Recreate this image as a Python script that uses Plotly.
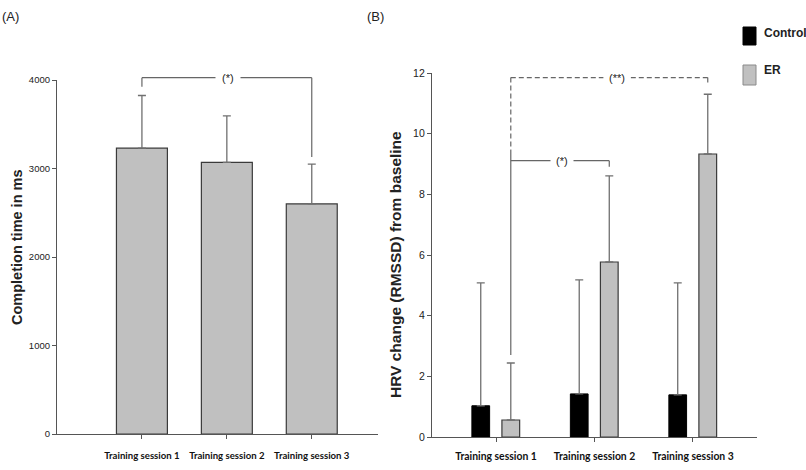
import plotly.graph_objects as go

# ---------------- data ----------------
sessions = ["Training session 1", "Training session 2", "Training session 3"]
completion_ms = [3230, 3070, 2600]
completion_err = [595, 525, 450]
control_hrv = [1.03, 1.42, 1.39]
control_err = [4.05, 3.76, 3.69]
er_hrv = [0.56, 5.77, 9.33]
er_err = [1.88, 2.84, 1.97]
a_yticks = [0, 1000, 2000, 3000, 4000]
b_yticks = [0, 2, 4, 6, 8, 10, 12]

# ---------------- layout geometry ----------------
W, H = 806, 470
XA_DOM = [57 / W, 378 / W]
XA_RNG = [-1, 2.78]
YA_DOM = [(H - 434) / H, (H - 80) / H]
YA_RNG = [0, 4000]
XB_DOM = [432 / W, 757 / W]
XB_RNG = [-0.65, 2.65]
YB_DOM = [(H - 437) / H, (H - 73) / H]
YB_RNG = [0, 12]


def to_paper(v, dom, rng):
    return dom[0] + (v - rng[0]) / (rng[1] - rng[0]) * (dom[1] - dom[0])


SANS = "Liberation Sans, Arial, sans-serif"
CAT = "Lato, Liberation Sans, Arial, sans-serif"
AX = "#555555"
ERRC = "#707070"
BRC = "#666666"

fig = go.Figure()

# Panel A
fig.add_trace(go.Bar(
    x=sessions, y=completion_ms, width=0.6,
    marker=dict(color="#c0c0c0", line=dict(color="#3a3a3a", width=1.2)),
    error_y=dict(type="data", array=completion_err, arrayminus=[0] * 3,
                 symmetric=False, color=ERRC, thickness=1.3, width=4),
    xaxis="x", yaxis="y", showlegend=False, name="Completion time"))

# Panel B
fig.add_trace(go.Bar(
    x=sessions, y=control_hrv, width=0.18, offset=-0.245,
    marker=dict(color="#000000", line=dict(color="#000000", width=1)),
    error_y=dict(type="data", array=control_err, arrayminus=[0] * 3,
                 symmetric=False, color=ERRC, thickness=1.3, width=4),
    xaxis="x2", yaxis="y2", showlegend=False, name="Control"))
fig.add_trace(go.Bar(
    x=sessions, y=er_hrv, width=0.18, offset=0.06,
    marker=dict(color="#c0c0c0", line=dict(color="#3a3a3a", width=1.2)),
    error_y=dict(type="data", array=er_err, arrayminus=[0] * 3,
                 symmetric=False, color=ERRC, thickness=1.3, width=4),
    xaxis="x2", yaxis="y2", showlegend=False, name="ER"))

axis_common = dict(showline=True, linecolor=AX, linewidth=1.2, ticks="outside",
                   ticklen=4, tickcolor=AX, tickwidth=1, showgrid=False,
                   zeroline=False, fixedrange=True, automargin=False)

fig.update_layout(
    width=W, height=H, margin=dict(l=0, r=0, t=0, b=0, autoexpand=False),
    paper_bgcolor="white", plot_bgcolor="white", barmode="overlay",
    xaxis=dict(domain=XA_DOM, range=XA_RNG, anchor="y", tickangle=0, **axis_common,
               tickfont=dict(family=CAT, size=9.6, color="#111", weight="bold"),
               ticklabelstandoff=8),
    yaxis=dict(domain=YA_DOM, range=YA_RNG, anchor="x", tickvals=a_yticks,
               **axis_common, tickfont=dict(family=SANS, size=9.5, color="#222")),
    xaxis2=dict(domain=XB_DOM, range=XB_RNG, anchor="y2", tickangle=0, **axis_common,
                tickfont=dict(family=CAT, size=10.4, color="#111", weight="bold"),
                ticklabelstandoff=5),
    yaxis2=dict(domain=YB_DOM, range=YB_RNG, anchor="x2", tickvals=b_yticks,
                **axis_common, tickfont=dict(family=SANS, size=10.5, color="#222")),
)

shapes = []
annots = []


def line_a(x0, y0, x1, y1, dash="solid"):
    shapes.append(dict(type="line", xref="paper", yref="paper",
                       x0=to_paper(x0, XA_DOM, XA_RNG), y0=to_paper(y0, YA_DOM, YA_RNG),
                       x1=to_paper(x1, XA_DOM, XA_RNG), y1=to_paper(y1, YA_DOM, YA_RNG),
                       line=dict(color=BRC, width=1.2, dash=dash)))


def line_b(x0, y0, x1, y1, dash="solid"):
    shapes.append(dict(type="line", xref="paper", yref="paper",
                       x0=to_paper(x0, XB_DOM, XB_RNG), y0=to_paper(y0, YB_DOM, YB_RNG),
                       x1=to_paper(x1, XB_DOM, XB_RNG), y1=to_paper(y1, YB_DOM, YB_RNG),
                       line=dict(color=BRC, width=1.2, dash=dash)))


def note(x, y, text, size, xanchor="center", yanchor="middle", angle=0, **kw):
    annots.append(dict(x=x, y=y, xref="paper", yref="paper", text=text,
                       xanchor=xanchor, yanchor=yanchor, textangle=angle,
                       showarrow=False, font=dict(family=SANS, size=size, color="#222"), **kw))


# Panel A significance bracket (session 1 vs 3)
a_br = 4026
line_a(0, a_br, 2, a_br)
line_a(0, a_br, 0, completion_ms[0] + completion_err[0] + 100)
line_a(2, a_br, 2, completion_ms[2] + completion_err[2] + 80)
note(to_paper(1.01, XA_DOM, XA_RNG), to_paper(a_br, YA_DOM, YA_RNG), "(*)", 11,
     bgcolor="white", borderpad=6)

# Panel B brackets
er_c = 0.15
b_br2 = 11.85
line_b(er_c, b_br2, 2 + er_c, b_br2, dash="5px,3px")
line_b(2 + er_c, b_br2, 2 + er_c, er_hrv[2] + er_err[2] + 0.3, dash="5px,3px")
line_b(er_c, b_br2, er_c, 9.47, dash="5px,3px")
line_b(er_c, 9.47, er_c, er_hrv[0] + er_err[0] + 0.26)
b_br1 = 9.11
line_b(er_c, b_br1, 1 + er_c, b_br1)
line_b(1 + er_c, b_br1, 1 + er_c, er_hrv[1] + er_err[1] + 0.3)
note(to_paper(1.23, XB_DOM, XB_RNG), to_paper(b_br2, YB_DOM, YB_RNG), "(**)", 11,
     bgcolor="white", borderpad=5)
note(to_paper(0.67, XB_DOM, XB_RNG), to_paper(b_br1, YB_DOM, YB_RNG), "(*)", 11,
     bgcolor="white", borderpad=5)

# Axis titles
note(17 / W, (H - 247) / H, "<b>Completion time in ms</b>", 14.5, angle=-90)
note(395 / W, (H - 265) / H, "<b>HRV change (RMSSD) from baseline</b>", 15.5, angle=-90)

# Panel labels
note(0 / W, (H - 16) / H, "(A)", 13, xanchor="left")
note(375 / W, (H - 16) / H, "(B)", 13)

# Legend (manual)
shapes.append(dict(type="rect", xref="paper", yref="paper", x0=743 / W, x1=756 / W,
                   y0=(H - 45) / H, y1=(H - 27) / H, fillcolor="#000000",
                   line=dict(color="#000000", width=1)))
shapes.append(dict(type="rect", xref="paper", yref="paper", x0=743 / W, x1=756 / W,
                   y0=(H - 85) / H, y1=(H - 65) / H, fillcolor="#c0c0c0",
                   line=dict(color="#8a8a8a", width=1)))
note(762 / W, (H - 33) / H, "<b>Control</b>", 12, xanchor="left")
note(762 / W, (H - 70) / H, "<b>ER</b>", 12, xanchor="left")

fig.update_layout(shapes=shapes, annotations=annots)

fig.write_html("out.html")
